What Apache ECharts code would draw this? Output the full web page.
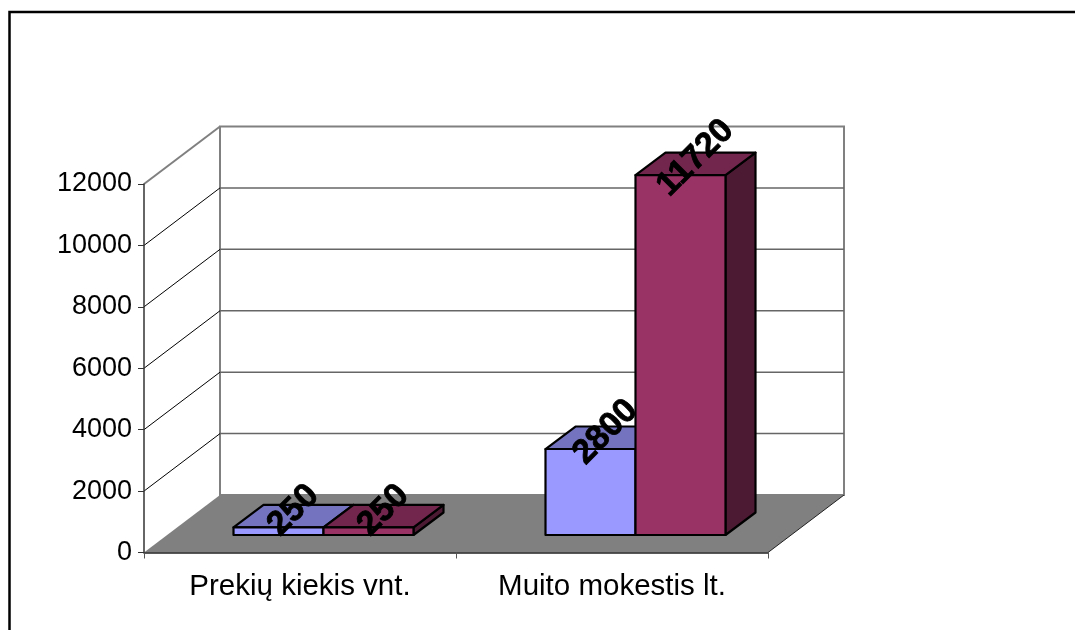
<!DOCTYPE html>
<html><head><meta charset="utf-8">
<style>html,body{margin:0;padding:0;background:#fff}#c{width:1075px;height:630px}</style>
<script src="https://cdn.jsdelivr.net/npm/echarts@6/dist/echarts.min.js"></script>
</head><body><div id="c"></div>
<script>
const categories = ['Prekių kiekis vnt.', 'Muito mokestis lt.'];
const seriesA = [250, 2800];
const seriesB = [250, 11720];
const yTicks = [0, 2000, 4000, 6000, 8000, 10000, 12000];

const WALL_DX = 76, WALL_DY = -57.5;
const BAR_DX = 30, BAR_DY = -22.5, BAR_W = 90;
const BASE_X = 23.5, BASE_Y = -17.5;

function renderWalls(params, api) {
  const v = api.value(1);
  const g = params.coordSys;
  const p = api.coord([0, v]);
  const y = p[1], x0 = g.x, x1 = g.x + g.width;
  const children = [];
  const grey = '#808080';
  if (v === 0) {
    const top = api.coord([0, yTicks[yTicks.length - 1]])[1];
    children.push({ type: 'polygon', shape: { points: [
      [x0 + WALL_DX, top + WALL_DY], [x1 + WALL_DX, top + WALL_DY],
      [x1 + WALL_DX, y + WALL_DY], [x0 + WALL_DX, y + WALL_DY]] },
      style: { fill: '#fff', stroke: grey, lineWidth: 2 } });
    children.push({ type: 'polygon', shape: { points: [
      [x0, y], [x1, y], [x1 + WALL_DX, y + WALL_DY], [x0 + WALL_DX, y + WALL_DY]] },
      style: { fill: '#808080', stroke: null } });
    children.push({ type: 'line', shape: { x1: x1, y1: y, x2: x1 + WALL_DX, y2: y + WALL_DY },
      style: { stroke: '#222', lineWidth: 1 } });
  } else {
    const isTop = v === yTicks[yTicks.length - 1];
    children.push({ type: 'line', shape: { x1: x0, y1: y, x2: x0 + WALL_DX, y2: y + WALL_DY },
      style: { stroke: isTop ? grey : '#000', lineWidth: isTop ? 2 : 1 } });
    if (!isTop) children.push({ type: 'line', shape: { x1: x0 + WALL_DX, y1: y + WALL_DY, x2: x1 + WALL_DX, y2: y + WALL_DY },
      style: { stroke: '#666', lineWidth: 1.5 } });
  }
  return { type: 'group', children };
}

function boxRenderer(side, front, topC, sideC) {
  return function (params, api) {
    const c = api.coord([api.value(0), 0]);
    const t = api.coord([api.value(0), api.value(1)]);
    const xl = c[0] + BASE_X + (side < 0 ? -BAR_W : 0);
    const xr = xl + BAR_W;
    const yb = c[1] + BASE_Y;
    const yt = t[1] + BASE_Y;
    const st = { stroke: '#000', lineWidth: 2.2, lineJoin: 'round' };
    return { type: 'group', children: [
      { type: 'polygon', shape: { points: [[xr, yb], [xr + BAR_DX, yb + BAR_DY], [xr + BAR_DX, yt + BAR_DY], [xr, yt]] },
        style: Object.assign({ fill: sideC }, st) },
      { type: 'polygon', shape: { points: [[xl, yt], [xr, yt], [xr + BAR_DX, yt + BAR_DY], [xl + BAR_DX, yt + BAR_DY]] },
        style: Object.assign({ fill: topC }, st) },
      { type: 'rect', shape: { x: xl, y: yt, width: BAR_W, height: yb - yt },
        style: Object.assign({ fill: front }, st) }
    ] };
  };
}

function labelRenderer(side) {
  return function (params, api) {
    const c = api.coord([api.value(0), 0]);
    const t = api.coord([api.value(0), api.value(1)]);
    const xc = c[0] + BASE_X + side * BAR_W / 2 + 15;
    const yc = t[1] + BASE_Y - 17;
    return { type: 'text', x: xc, y: yc, rotation: Math.PI / 4,
      style: { text: String(api.value(1)), textAlign: 'center', textVerticalAlign: 'middle',
        font: 'bold 34px "Liberation Sans"', fill: '#000', stroke: '#000', lineWidth: 0.8 } };
  };
}

const toPairs = arr => arr.map((v, i) => [i, v]);

const chart = echarts.init(document.getElementById('c'), null, { renderer: 'canvas' });
chart.setOption({
  animation: false,
  backgroundColor: '#fff',
  grid: { left: 144, right: 307, top: 184, bottom: 77.5 },
  xAxis: { type: 'category', data: categories, z: 3,
    axisLine: { show: true, lineStyle: { color: '#222', width: 1.5 } },
    axisTick: { show: true, alignWithLabel: false, length: 6, lineStyle: { color: '#555', width: 1 } },
    axisLabel: { color: '#000', fontFamily: 'Liberation Sans', fontSize: 29.5, margin: 19, interval: 0 },
    splitLine: { show: false } },
  yAxis: { type: 'value', min: 0, max: 12000, interval: 2000, z: 3,
    axisLine: { show: true, lineStyle: { color: '#333', width: 1.5 } },
    axisTick: { show: true, length: 6, lineStyle: { color: '#333', width: 1 } },
    axisLabel: { color: '#000', fontFamily: 'Liberation Sans', fontSize: 27, margin: 12, formatter: v => String(v) },
    splitLine: { show: false } },
  graphic: [{ type: 'rect', silent: true, shape: { x: 9.5, y: 12, width: 1200, height: 800 },
    style: { fill: 'none', stroke: '#000', lineWidth: 2.5 } }],
  series: [
    { type: 'custom', z: 1, silent: true, clip: false, data: yTicks.map(v => [0, v]), encode: { x: 0, y: 1 }, renderItem: renderWalls },
    { type: 'custom', z: 4, silent: true, clip: false, data: toPairs(seriesA), encode: { x: 0, y: 1 },
      renderItem: boxRenderer(-1, '#9999FF', '#7373BF', '#5C5C99') },
    { type: 'custom', z: 5, silent: true, clip: false, data: toPairs(seriesB), encode: { x: 0, y: 1 },
      renderItem: boxRenderer(1, '#993366', '#73264D', '#4D1A33') },
    { type: 'custom', z: 6, silent: true, clip: false, data: toPairs(seriesA), encode: { x: 0, y: 1 }, renderItem: labelRenderer(-1) },
    { type: 'custom', z: 6, silent: true, clip: false, data: toPairs(seriesB), encode: { x: 0, y: 1 }, renderItem: labelRenderer(1) }
  ]
});
</script></body></html>
